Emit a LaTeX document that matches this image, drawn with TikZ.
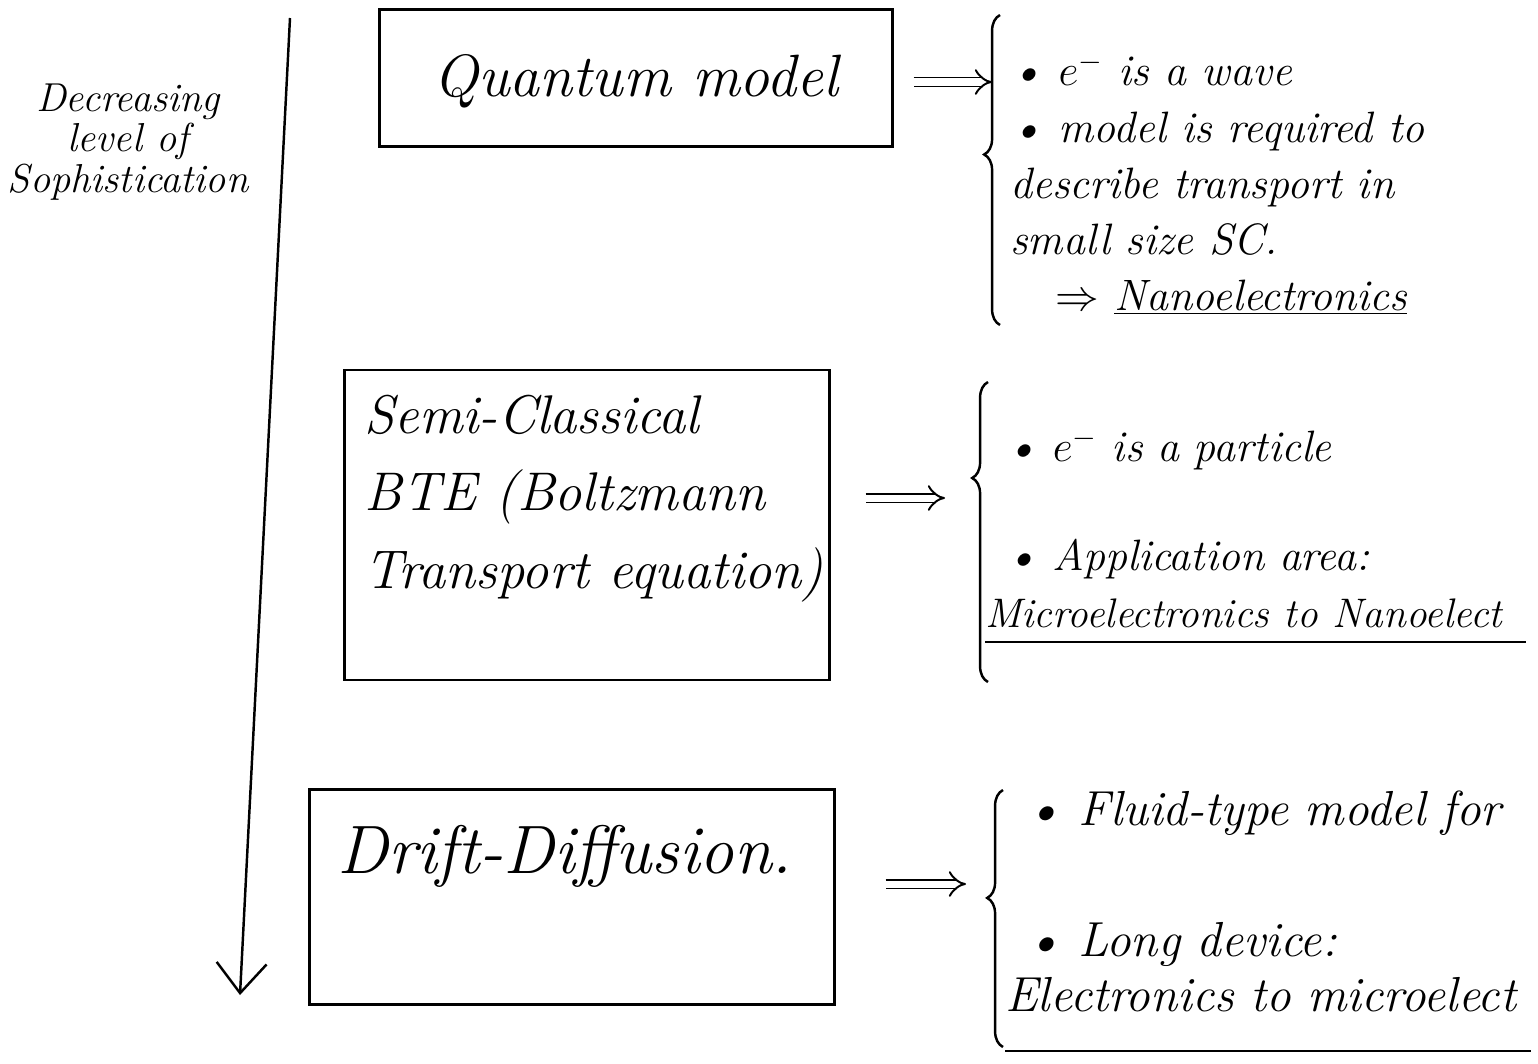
\documentclass[tikz,border=0pt]{standalone}
\usepackage{fontspec}
\usetikzlibrary{arrows.meta,positioning,decorations.pathreplacing}
\tikzset{
  box/.style  = {draw, line width=1.4pt, inner sep=0pt},
  boxtxt/.style = {align=left, inner sep=0pt,
                 font=\fontsize{34}{44}\selectfont\itshape},
  note/.style = {anchor=north west, align=left, inner sep=0pt,
                 font=\fontsize{25}{32}\selectfont\itshape},
  imp/.style  = {double, line width=1.1pt, double distance=4pt, -{Implies}},
  brc/.style  = {decorate, line width=1.4pt},
  uline/.style= {line width=1.3pt},
}
\begin{document}
\begin{tikzpicture}[x=0.02cm, y=-0.02cm]
\useasboundingbox (0,0) rectangle (1538,1063);

% axis: level of sophistication
\coordinate (top) at (290,18);
\coordinate (bot) at (240,995);
\draw[line width=1.4pt, -{Straight Barb[length=6mm,width=10mm]}] (top) -- (bot);
\node[align=center, inner sep=0pt, font=\fontsize{23}{23}\selectfont\itshape]
     (lvl) at (128,142) {Decreasing\\level of\\Sophistication};

% the three models
\node[box, minimum width=10.26cm, minimum height=2.74cm,
      label={[boxtxt, yshift=-2pt]center:Quantum model}] (qm) at (636,78) {};
\node[box, minimum width=9.7cm, minimum height=6.2cm,
      label={[boxtxt, xshift=4pt, yshift=15pt, font=\fontsize{31}{44}\selectfont\itshape]center:Semi-Classical\\BTE (Boltzmann\\Transport equation)}]
     (sc) at (587,525) {};
\node[box, minimum width=10.5cm, minimum height=4.3cm,
      label={[boxtxt, xshift=-4pt, yshift=23pt, font=\fontsize{39}{44}\selectfont\itshape]center:Drift-Diffusion.}]
     (dd) at (572,897) {};

% notes
\node[note] (n1) at (1010,52)
  {\textbullet\ $e^-$ is a wave\\
   \textbullet\ model is required to\\
   describe transport in\\
   small size SC.\\
   \hspace{0.9cm}$\Rightarrow$ \underline{Nanoelectronics}};
\node[note, text width=10.8cm] (n2) at (985,428)
  {\hspace{0.4cm}\textbullet\ $e^-$ is a particle\\[30pt]
   \hspace{0.4cm}\textbullet\ Application area:\\
   \mbox{\fontsize{23.5}{32}\selectfont Microelectronics to Nanoelect}};
\node[note, text width=10.5cm, font=\fontsize{28}{31}\selectfont\itshape] (n3) at (1005,790)
  {\hspace{0.4cm}\textbullet\ Fluid-type model for\\[44pt]
   \hspace{0.4cm}\textbullet\ Long device:\\
   Electronics to microelect};
\draw[uline] ([yshift=-8pt]n2.south west) -- ([yshift=-8pt]n2.south east);
\draw[uline] ([yshift=-22pt]n3.south west) -- ([yshift=-22pt]n3.south east);

% braces
\coordinate (b1s) at (1000,325);
\coordinate (b1n) at (1000,15);
\coordinate (b2s) at (988,682);
\coordinate (b2n) at (988,382);
\coordinate (b3s) at (1003,1047);
\coordinate (b3n) at (1003,790);
\draw[brc, decoration={brace, amplitude=9pt, aspect=0.55}] (b1s) -- (b1n);
\draw[brc, decoration={brace, amplitude=9pt, aspect=0.68}] (b2s) -- (b2n);
\draw[brc, decoration={brace, amplitude=9pt, aspect=0.58}] (b3s) -- (b3n);

% implications
\coordinate (t1) at (992,82);
\coordinate (t2) at (945,498);
\coordinate (t3) at (966,884);
\draw[imp, shorten <=0.4cm] (qm.east |- t1) -- (t1);
\draw[imp, shorten <=0.7cm] (sc.east |- t2) -- (t2);
\draw[imp, shorten <=1.0cm] (dd.east |- t3) -- (t3);
\end{tikzpicture}
\end{document}
